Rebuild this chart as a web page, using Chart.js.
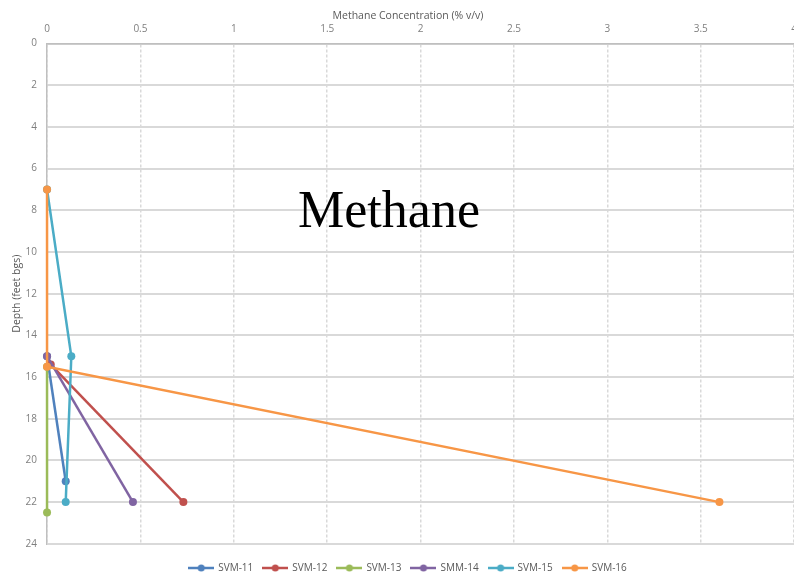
<!DOCTYPE html>
<html>
<head>
<meta charset="utf-8">
<script src="https://cdn.jsdelivr.net/npm/chart.js@4.4.1/dist/chart.umd.min.js"></script>
<style>
    html, body { margin: 0; padding: 0; background: #fff; overflow: hidden; }
    #wrap { position: relative; width: 805px; height: 583px; }
</style>
</head>
<body>
<div id="wrap"><canvas id="methane-chart"></canvas></div>
<script>
const seriesNames = ["SVM-11", "SVM-12", "SVM-13", "SMM-14", "SVM-15", "SVM-16"];
const seriesColors = ["#4F81BD", "#C0504D", "#9BBB59", "#8064A2", "#4BACC6", "#F79646"];

// concentration (% v/v) and depth (feet bgs) per series
const svm11Conc = [0, 0.1];
const svm11Depth = [15, 21];
const svm12Conc = [0.02, 0.73];
const svm12Depth = [15.4, 22];
const svm13Conc = [0, 0];
const svm13Depth = [15.5, 22.5];
const smm14Conc = [0, 0.46];
const smm14Depth = [15, 22];
const svm15Conc = [0, 0.13, 0.1];
const svm15Depth = [7, 15, 22];
const svm16Conc = [0, 0, 3.6];
const svm16Depth = [7, 15.5, 22];

const concTicks = [0, 0.5, 1, 1.5, 2, 2.5, 3, 3.5, 4];
const depthTicks = [0, 2, 4, 6, 8, 10, 12, 14, 16, 18, 20, 22, 24];

const concs = [svm11Conc, svm12Conc, svm13Conc, smm14Conc, svm15Conc, svm16Conc];
const depths = [svm11Depth, svm12Depth, svm13Depth, smm14Depth, svm15Depth, svm16Depth];

function toPoints(xs, ys) {
    return xs.map((x, i) => ({x: x, y: ys[i]}));
}

// little line-with-dot swatch for the legend
function legendSwatch(color) {
    const c = document.createElement("canvas");
    c.width = 26;
    c.height = 10;
    const g = c.getContext("2d");
    g.strokeStyle = color;
    g.lineWidth = 2.5;
    g.beginPath();
    g.moveTo(0, 5);
    g.lineTo(26, 5);
    g.stroke();
    g.fillStyle = color;
    g.beginPath();
    g.arc(13, 5, 3.5, 0, Math.PI * 2);
    g.fill();
    return c;
}

const datasets = seriesNames.map(function (name, i) {
    return {
        label: name,
        data: toPoints(concs[i], depths[i]),
        borderColor: seriesColors[i],
        backgroundColor: seriesColors[i],
        borderWidth: 2.5,
        pointRadius: 4,
        pointBorderWidth: 0,
        showLine: true,
        tension: 0,
        clip: 8,
        order: seriesNames.length - i   // later series drawn on top, like the original
    };
});

const bigLabel = {
    id: "bigLabel",
    afterDatasetsDraw(chart) {
        const ctx = chart.ctx;
        ctx.save();
        ctx.font = '52px "Liberation Serif", serif';
        ctx.fillStyle = "#000";
        ctx.textAlign = "center";
        ctx.textBaseline = "alphabetic";
        ctx.fillText("Methane", 389, 227);
        ctx.restore();
    }
};

const tickFont = {family: '"Open Sans", sans-serif', size: 10};
const titleFont = {family: '"Open Sans", sans-serif', size: 10.5, weight: "normal"};

new Chart(document.getElementById("methane-chart"), {
    type: "scatter",
    data: {datasets: datasets},
    plugins: [bigLabel],
    options: {
        responsive: true,
        maintainAspectRatio: false,
        animation: false,
        layout: {padding: {left: 11, right: 0, top: 10, bottom: 0}},
        scales: {
            x: {
                type: "linear",
                position: "top",
                min: 0,
                max: 4,
                afterBuildTicks: axis => { axis.ticks = concTicks.map(v => ({value: v})); },
                ticks: {
                    color: "#7f7f7f",
                    font: tickFont,
                    padding: 8,
                    maxRotation: 0,
                    callback: v => String(v)
                },
                grid: {color: "#d9d9d9", lineWidth: 1.5, drawTicks: false},
                border: {display: true, color: "#bfbfbf", width: 1.5, dash: [3, 2]}
            },
            y: {
                type: "linear",
                reverse: true,
                min: 0,
                max: 24,
                afterBuildTicks: axis => { axis.ticks = depthTicks.map(v => ({value: v})); },
                ticks: {color: "#7f7f7f", font: tickFont, padding: 10},
                grid: {color: "#d9d9d9", lineWidth: 2, drawTicks: false},
                border: {display: true, color: "#bfbfbf", width: 1.5},
                title: {
                    display: true,
                    text: "Depth (feet bgs)",
                    color: "#595959",
                    font: titleFont,
                    padding: {top: 0, bottom: -8}
                }
            }
        },
        plugins: {
            title: {
                display: true,
                text: "Methane Concentration (% v/v)",
                color: "#595959",
                font: titleFont,
                padding: {top: 0, bottom: -7}
            },
            legend: {
                position: "bottom",
                title: {display: true, text: "", font: {size: 6}, padding: 1},
                labels: {
                    color: "#595959",
                    font: tickFont,
                    usePointStyle: true,
                    pointStyleWidth: 24,
                    boxHeight: 10,
                    padding: 10,
                    generateLabels: function (chart) {
                        return chart.data.datasets.map((ds, i) => ({
                            text: ds.label,
                            fontColor: "#595959",
                            pointStyle: legendSwatch(ds.borderColor),
                            datasetIndex: i,
                            hidden: false,
                            lineWidth: 0
                        }));
                    }
                }
            },
            tooltip: {enabled: false}
        }
    }
});
</script>
</body>
</html>
